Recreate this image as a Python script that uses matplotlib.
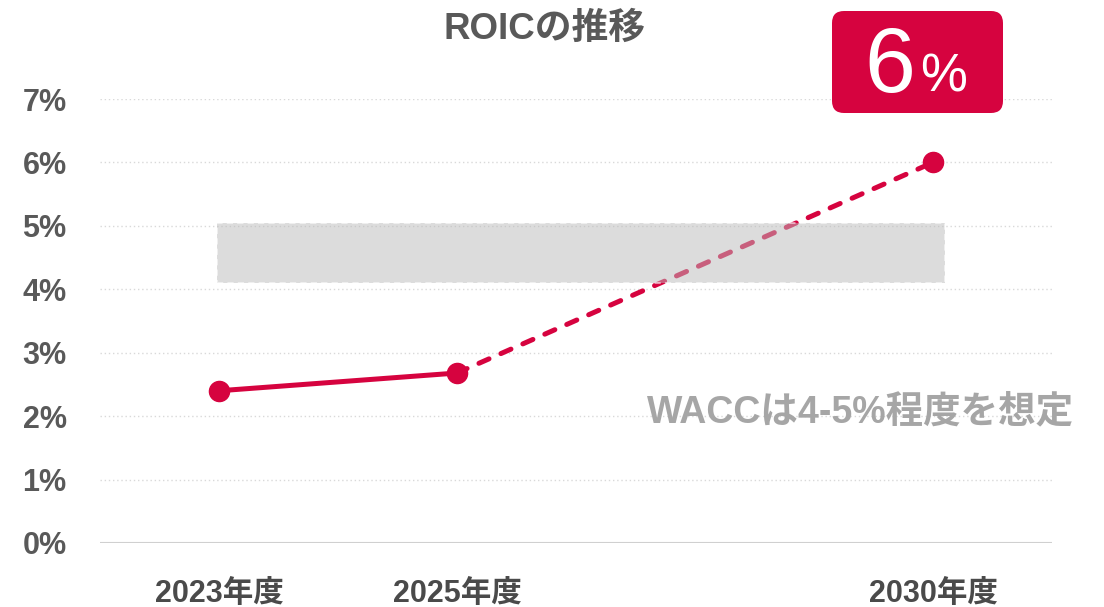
import matplotlib
matplotlib.use("Agg")
import matplotlib.pyplot as plt
from matplotlib.patches import Rectangle, FancyBboxPatch

# ---- data ----
categories = ["2023年度", "2025年度", "", "2030年度"]
roic_actual_idx = [0, 1]
roic_actual = [2.4, 2.68]
roic_plan_idx = [1, 3]
roic_plan = [2.68, 6.0]
yticks = [0, 1, 2, 3, 4, 5, 6, 7]
ytick_labels = ["0%", "1%", "2%", "3%", "4%", "5%", "6%", "7%"]
wacc_low, wacc_high = 4.1, 5.05
target_value = "6"
title = "ROICの推移"
wacc_note = "WACCは4-5%程度を想定"

FAM = ["Liberation Sans", "Noto Sans CJK JP", "DejaVu Sans"]
plt.rcParams["font.family"] = FAM

RED = "#D6033F"
GRAY_TXT = "#595959"

fig = plt.figure(figsize=(11.04, 6.07), dpi=100)
W, H = 1104, 607
ax = fig.add_axes([100 / W, (H - 543) / H, 952 / W, 444 / H])
ax.set_xlim(-0.5, 3.5)
ax.set_ylim(0, 7)

# grid
for y in yticks[1:]:
    ax.axhline(y, color="#d9d9d9", lw=1.0, ls=(0, (1, 2)), zorder=0)
ax.axhline(0, color="#d0d0d0", lw=1.5, zorder=1)

# lines
ax.plot(roic_actual_idx, roic_actual, color=RED, lw=3.6, solid_capstyle="round", zorder=3)
ax.plot(roic_plan_idx, roic_plan, color=RED, lw=3.6, dashes=(2.2, 2.6),
        dash_capstyle="round", zorder=3)
ax.plot([0, 1, 3], [roic_actual[0], roic_actual[1], roic_plan[1]], ls="none",
        marker="o", ms=14.5, color=RED, zorder=5)

# WACC band (semi transparent, above the line)
band = Rectangle((-0.01, wacc_low), 3.06, wacc_high - wacc_low,
                 facecolor=(0.733, 0.733, 0.733, 0.5),
                 edgecolor=(1, 1, 1, 0.55), lw=1.5, ls=(0, (3, 2)), zorder=4)
ax.add_patch(band)

# axes styling
for s in ax.spines.values():
    s.set_visible(False)
ax.set_yticks(yticks)
ax.set_yticklabels(ytick_labels)
ax.set_xticks(range(len(categories)))
ax.set_xticklabels(categories)
ax.tick_params(axis="both", length=0)
ax.tick_params(axis="y", pad=24, labelsize=22, labelcolor=GRAY_TXT)
ax.tick_params(axis="x", pad=26, labelsize=22, labelcolor="#4a4a4a")
for lab in ax.get_yticklabels() + ax.get_xticklabels():
    lab.set_fontweight("bold")
    lab.set_family(FAM)

# title
fig.text(544 / W, (H - 29) / H, title, ha="center", va="center",
         fontsize=26.5, fontweight="bold", color=GRAY_TXT, family=FAM)

# WACC note
fig.text(861 / W, (H - 412) / H, wacc_note, ha="center", va="center",
         fontsize=27, fontweight="bold", color="#a6a6a6", family=FAM)

# target box
box = FancyBboxPatch((8.32 + 0.12, 4.94 + 0.12), 1.71 - 0.24, 1.02 - 0.24,
                     boxstyle="round,pad=0.12", transform=fig.dpi_scale_trans,
                     facecolor=RED, edgecolor="none")
fig.add_artist(box)
fig.text(915 / W, (H - 92) / H, target_value, ha="right", va="baseline",
         fontsize=66, color="white", family=FAM)
fig.text(920 / W, (H - 91) / H, "%", ha="left", va="baseline",
         fontsize=38, color="white", family=FAM)

fig.savefig("out.png", dpi=100)
